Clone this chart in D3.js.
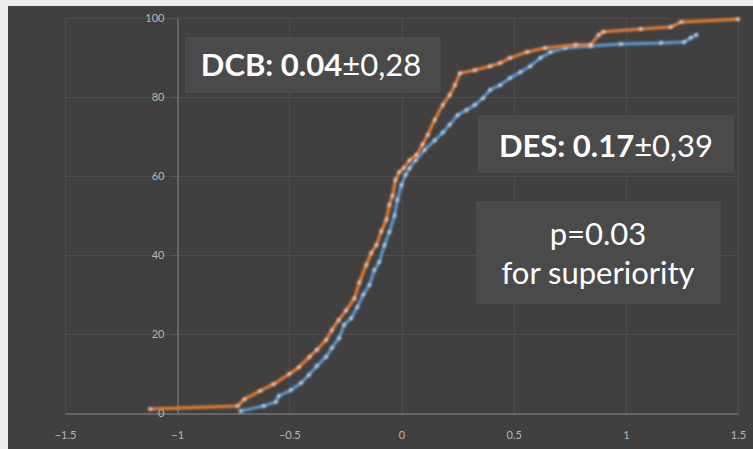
<!DOCTYPE html>
<html>
<head>
<meta charset="utf-8">
<script src="https://cdn.jsdelivr.net/npm/d3@7"></script>
<style>
  html, body { margin: 0; padding: 0; background: #ececec; }
  svg { display: block; }
</style>
</head>
<body>
<svg id="chart" width="753" height="449"></svg>
<script>
// Cumulative distributions (percent of lesions) of the difference value
const dcbX = [-1.12, -0.73, -0.70, -0.63, -0.57, -0.50, -0.457, -0.41, -0.377, -0.336, -0.31, -0.28, -0.247, -0.21, -0.188, -0.157, -0.135, -0.112, -0.09, -0.067, -0.054, -0.04, -0.027, -0.01, 0.01, 0.036, 0.067, 0.094, 0.117, 0.148, 0.184, 0.215, 0.238, 0.26, 0.327, 0.395, 0.44, 0.484, 0.56, 0.64, 0.776, 0.843, 0.879, 0.90, 1.067, 1.2, 1.247, 1.5];
const dcbY = [1, 1.8, 3.5, 5.6, 7.3, 9.9, 11.6, 14.2, 16, 18.5, 21, 23.5, 26, 29, 33, 37.5, 40.5, 42.5, 46, 49, 52.7, 55, 59, 61, 62, 64, 65.3, 68, 70.4, 74.2, 78, 80.5, 83, 86, 86.8, 87.8, 88.6, 89.9, 91.4, 92.4, 93.2, 93.2, 95.7, 96.5, 97.2, 97.7, 99, 99.7];

const desX = [-0.717, -0.614, -0.56, -0.547, -0.493, -0.448, -0.413, -0.377, -0.336, -0.31, -0.278, -0.256, -0.224, -0.197, -0.17, -0.143, -0.121, -0.099, -0.076, -0.054, -0.031, -0.018, 0, 0.018, 0.036, 0.063, 0.103, 0.148, 0.184, 0.215, 0.25, 0.29, 0.327, 0.363, 0.395, 0.44, 0.484, 0.53, 0.574, 0.619, 0.664, 0.73, 0.843, 0.978, 1.157, 1.26, 1.29, 1.314];
const desY = [0.5, 1.8, 2.8, 4.3, 5.8, 7.6, 9.6, 11.9, 14.2, 16.5, 19, 22.3, 24, 26.8, 30, 32.4, 36.2, 38.2, 42.5, 45.8, 50, 54, 57.7, 60.3, 62, 64, 66.6, 69, 71, 73, 75.4, 76.7, 78, 79.7, 81.8, 83, 84.8, 86.3, 87.8, 89.9, 91.4, 92.4, 92.9, 93.4, 93.7, 93.9, 95, 95.7];

const xTicks = [-1.5, -1, -0.5, 0, 0.5, 1, 1.5];
const yTicks = [0, 20, 40, 60, 80, 100];

const svg = d3.select("#chart");

// dark chart panel
svg.append("rect").attr("x", 8).attr("y", 6).attr("width", 745).attr("height", 443).attr("fill", "#404040");

const x = d3.scaleLinear().domain([-1.5, 1.5]).range([65, 738]);
const y = d3.scaleLinear().domain([0, 100]).range([413, 18]);

// gridlines
const grid = svg.append("g").attr("stroke", "#4d4d4d").attr("stroke-width", 1);
grid.selectAll("line.h").data(yTicks.filter(d => d > 0)).join("line")
  .attr("x1", x(-1.5)).attr("x2", x(1.5))
  .attr("y1", d => Math.round(y(d)) + 0.5).attr("y2", d => Math.round(y(d)) + 0.5);
grid.selectAll("line.v").data(xTicks.filter(d => d !== -1)).join("line")
  .attr("y1", y(100)).attr("y2", y(0))
  .attr("x1", d => Math.round(x(d)) + 0.5).attr("x2", d => Math.round(x(d)) + 0.5);

const font = "Lato, 'Open Sans', sans-serif";

// x axis along 0 %
const xAxis = svg.append("g")
  .attr("transform", `translate(0,${Math.round(y(0)) + 0.5})`)
  .call(d3.axisBottom(x).tickValues(xTicks).tickSize(0).tickPadding(18).tickFormat(d3.format("")));
xAxis.select(".domain").attr("stroke", "#8a8a8a").attr("stroke-width", 1.2);
xAxis.selectAll("text").attr("fill", "#b8b8b8").style("font-family", font).style("font-size", "11px");

// y axis crossing at -1
const yAxis = svg.append("g")
  .attr("transform", `translate(${Math.round(x(-1)) + 0.5},0)`)
  .call(d3.axisLeft(y).tickValues(yTicks).tickSize(5).tickSizeOuter(0).tickPadding(8));
yAxis.select(".domain").attr("stroke", "#8a8a8a").attr("stroke-width", 1);
yAxis.selectAll(".tick line").attr("stroke", "#5a5a5a");
yAxis.selectAll("text").attr("fill", "#b8b8b8").style("font-family", font).style("font-size", "11px");

// soft glow on curves
const defs = svg.append("defs");
const f = defs.append("filter").attr("id", "soft").attr("x", "-5%").attr("y", "-5%").attr("width", "110%").attr("height", "110%");
f.append("feGaussianBlur").attr("stdDeviation", 0.8);

const line = d3.line().x(d => x(d[0])).y(d => y(d[1]));

function drawSeries(xs, ys, color, marker) {
  const pts = xs.map((v, i) => [v, ys[i]]);
  const g = svg.append("g").attr("filter", "url(#soft)");
  g.append("path").datum(pts).attr("d", line)
    .attr("fill", "none").attr("stroke", color).attr("stroke-width", 3)
    .attr("stroke-linejoin", "round");
  g.selectAll("rect").data(pts).join("rect")
    .attr("x", d => x(d[0]) - 1.8).attr("y", d => y(d[1]) - 1.8)
    .attr("width", 3.6).attr("height", 3.6)
    .attr("fill", marker);
}
drawSeries(desX, desY, "#5b9bd5", "#b4d4f2");
drawSeries(dcbX, dcbY, "#ed7d31", "#f7c8a4");

// annotation boxes
function box(x0, y0, w, h) {
  svg.append("rect").attr("x", x0).attr("y", y0).attr("width", w).attr("height", h)
    .attr("fill", "#4a4a4a").attr("stroke", "#525252").attr("stroke-width", 1);
}

box(186, 38, 254, 54);
const t1 = svg.append("text").attr("x", 311).attr("y", 76).attr("text-anchor", "middle")
  .attr("fill", "#ffffff").style("font-family", font).style("font-size", "31px");
t1.append("tspan").attr("font-weight", "bold").text("DCB: 0.04");
t1.append("tspan").text("±0,28");

box(479, 116, 254, 56);
const t2 = svg.append("text").attr("x", 606).attr("y", 157).attr("text-anchor", "middle")
  .attr("fill", "#ffffff").style("font-family", font).style("font-size", "31px");
t2.append("tspan").attr("font-weight", "bold").text("DES: 0.17");
t2.append("tspan").text("±0,39");

box(477, 202, 243, 101);
svg.append("text").attr("x", 598).attr("y", 245).attr("text-anchor", "middle")
  .attr("fill", "#ffffff").style("font-family", font).style("font-size", "31px").text("p=0.03");
svg.append("text").attr("x", 598).attr("y", 284).attr("text-anchor", "middle")
  .attr("fill", "#ffffff").style("font-family", font).style("font-size", "31px").text("for superiority");
</script>
</body>
</html>
